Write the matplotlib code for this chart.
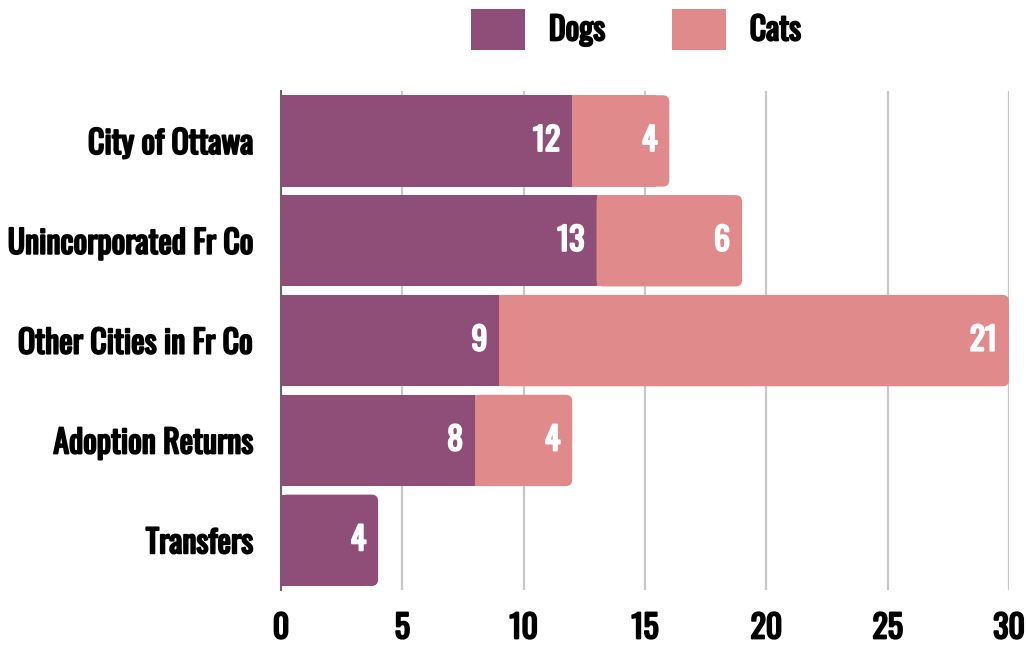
import matplotlib
matplotlib.use('Agg')
import matplotlib.pyplot as plt
import matplotlib.patheffects as pe
from matplotlib.patches import FancyBboxPatch, Patch

plt.rcParams['font.family'] = ['Oswald', 'Fjalla One', 'DejaVu Sans']

# Data
categories = ['City of Ottawa', 'Unincorporated Fr Co', 'Other Cities in Fr Co',
              'Adoption Returns', 'Transfers']
dogs = [12, 13, 9, 8, 4]
cats = [4, 6, 21, 4, 0]
x_ticks = [0, 5, 10, 15, 20, 25, 30]

DOG_COLOR = '#8E4E77'
CAT_COLOR = '#E18A8C'
FS = 23

# the installed Oswald only has the regular weight, so thicken strokes a bit
bold_black = [pe.withStroke(linewidth=1.4, foreground='black')]
bold_white = [pe.withStroke(linewidth=1.4, foreground='white')]

fig = plt.figure(figsize=(10.26, 6.5), dpi=100)
ax = fig.add_axes([0.2739, 0.092, 0.7096, 0.768])

ypos = list(range(len(categories)))
bar_h = 0.915

# px per data unit, used to keep the rounded corners circular
px_x = 0.7096 * 1026 / 30
px_y = 0.768 * 650 / 5
r_px = 6.5

dog_bars = ax.barh(ypos, dogs, height=bar_h, color=DOG_COLOR, zorder=3)
cat_bars = ax.barh(ypos, cats, left=dogs, height=bar_h, color=CAT_COLOR, zorder=3)

# round the right-hand end of each stacked bar
for i in ypos:
    if cats[i] > 0:
        rect, color, left, width = cat_bars[i], CAT_COLOR, dogs[i], cats[i]
    else:
        rect, color, left, width = dog_bars[i], DOG_COLOR, 0, dogs[i]
    r = r_px / px_x
    rect.set_width(width - 2 * r)
    rect.set_zorder(4)
    rb = FancyBboxPatch((left, i - bar_h / 2), width, bar_h,
                        boxstyle=f'round,pad=0,rounding_size={r}',
                        mutation_aspect=px_x / px_y,
                        facecolor=color, edgecolor='none', zorder=3)
    ax.add_patch(rb)

# value labels inside bars, right aligned
pad = 12 / px_x
for i in ypos:
    ax.text(dogs[i] - pad, i, str(dogs[i]), ha='right', va='center',
            color='white', fontsize=FS, zorder=5, path_effects=bold_white)
    if cats[i] > 0:
        ax.text(dogs[i] + cats[i] - pad, i, str(cats[i]), ha='right', va='center',
                color='white', fontsize=FS, zorder=5, path_effects=bold_white)

ax.set_xlim(0, 30)
ax.set_ylim(len(categories) - 0.5, -0.5)
ax.set_xticks(x_ticks)
ax.set_yticks(ypos)
ax.set_yticklabels(categories)
ax.set_xticklabels([str(t) for t in x_ticks])
ax.tick_params(axis='both', length=0, labelsize=FS)
ax.tick_params(axis='x', pad=16)
ax.tick_params(axis='y', pad=20)
for lbl in ax.get_xticklabels() + ax.get_yticklabels():
    lbl.set_path_effects(bold_black)

ax.grid(axis='x', color='#C8C8C8', linewidth=1.6, zorder=0)
ax.set_axisbelow(True)
for s in ['top', 'right', 'bottom']:
    ax.spines[s].set_visible(False)
ax.spines['left'].set_color('#666666')
ax.spines['left'].set_linewidth(1.5)

handles = [Patch(facecolor=DOG_COLOR, label='Dogs'),
           Patch(facecolor=CAT_COLOR, label='Cats')]
leg = fig.legend(handles=handles, loc='center', bbox_to_anchor=(0.62, 0.954), ncol=2,
                 frameon=False, prop={'size': FS},
                 handlelength=1.68, handleheight=1.6,
                 handletextpad=0.75, columnspacing=2.1)
for t in leg.get_texts():
    t.set_path_effects(bold_black)

fig.savefig('out.png', dpi=100)
